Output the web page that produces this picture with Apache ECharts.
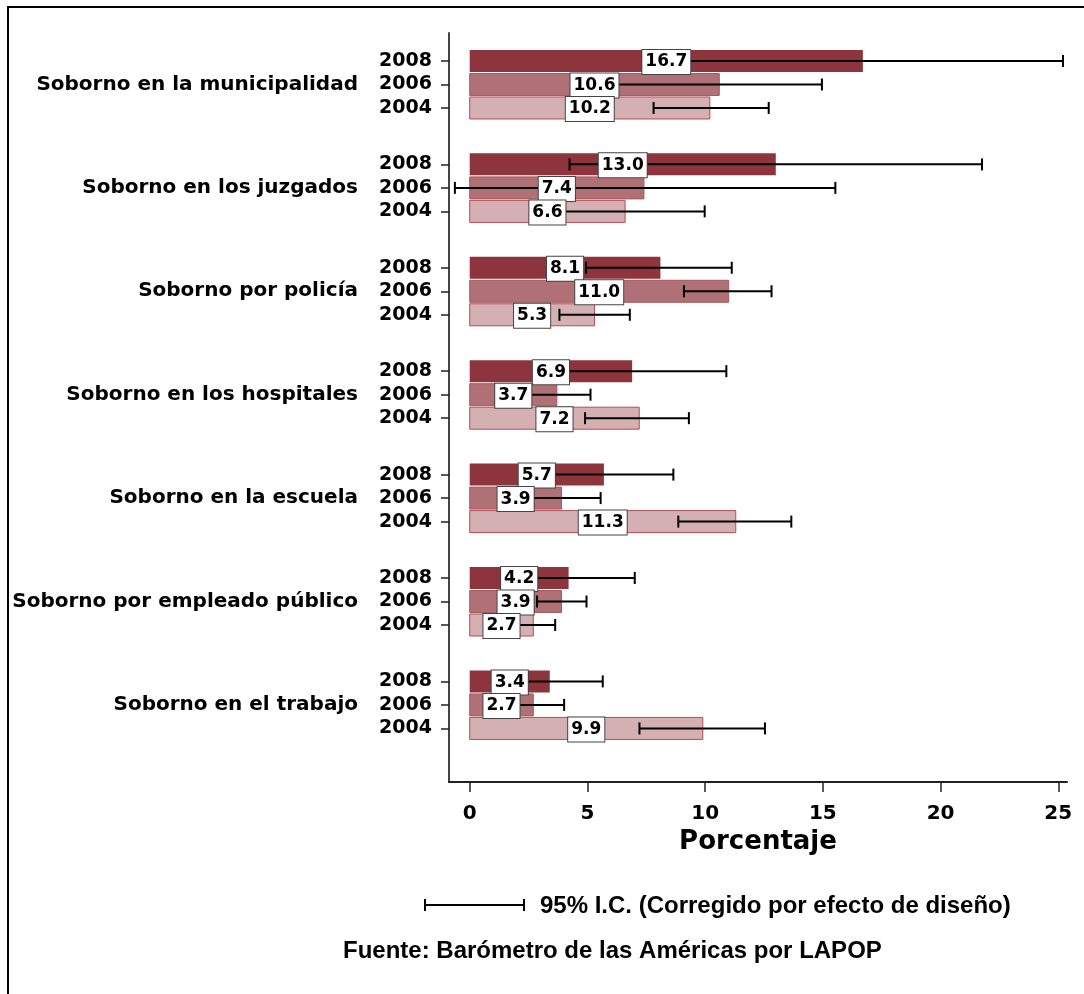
<!DOCTYPE html>
<html><head><meta charset="utf-8">
<script src="https://cdn.jsdelivr.net/npm/echarts@6/dist/echarts.min.js"></script>
<style>html,body{margin:0;padding:0;background:#fff}#c{width:1084px;height:994px}</style>
</head><body><div id="c"></div>
<script>
const groups = ["Soborno en la municipalidad","Soborno en los juzgados","Soborno por policía","Soborno en los hospitales","Soborno en la escuela","Soborno por empleado público","Soborno en el trabajo"];
const years = ["2008","2006","2004"];
const v2008 = [16.7,13.0,8.1,6.9,5.7,4.2,3.4];
const v2006 = [10.6,7.4,11.0,3.7,3.9,3.9,2.7];
const v2004 = [10.2,6.6,5.3,7.2,11.3,2.7,9.9];
const lo2008 = [8.2,4.24,4.94,3.2,2.75,1.41,1.3];
const hi2008 = [25.2,21.76,11.13,10.9,8.65,7.01,5.65];
const lo2006 = [6.26,-0.63,9.1,2.3,2.24,2.86,1.39];
const hi2006 = [14.96,15.53,12.82,5.13,5.56,4.96,4.01];
const lo2004 = [7.81,3.2,3.81,4.9,8.86,1.77,7.21];
const hi2004 = [12.70,9.98,6.8,9.31,13.66,3.63,12.54];
const xTicks = [0,5,10,15,20,25];

const vals = [v2008,v2006,v2004], los=[lo2008,lo2006,lo2004], his=[hi2008,hi2006,hi2004];
const fills = ['#8E343D','#B07176','#D5B0B3'];
const strokes = ['#8E343D','#A55960','#B84B55'];
const GP = 4.4;
const pos = (g,k)=> g*GP + k;
const rowPos=[], rowLab=[];
groups.forEach((g,i)=>years.forEach((y,k)=>{rowPos.push(pos(i,k)); rowLab.push(y);}));
const grpPos = groups.map((g,i)=>pos(i,1));
const findIdx=(arr,v)=>arr.findIndex(p=>Math.abs(p-v)<1e-6);

const FONT = 'DejaVu Sans';
const chart = echarts.init(document.getElementById('c'), null, {renderer:'canvas'});
const series=[];
years.forEach((y,k)=>{
  series.push({type:'custom', name:'bar'+y, z:2, xAxisIndex:0, yAxisIndex:0,
    data: groups.map((g,i)=>[vals[k][i], pos(i,k)]),
    renderItem:(params,api)=>{
      const s=api.coord([0,api.value(1)]), e=api.coord([api.value(0),api.value(1)]);
      const h=22;
      return {type:'rect', shape:{x:s[0], y:s[1]-h/2, width:e[0]-s[0], height:h},
        style:{fill:fills[k], stroke:strokes[k], lineWidth:k===0?0:1}};
    }});
});
years.forEach((y,k)=>{
  series.push({type:'custom', name:'err'+y, z:3,
    data: groups.map((g,i)=>[los[k][i], his[k][i], pos(i,k)]),
    renderItem:(params,api)=>{
      const a=api.coord([api.value(0),api.value(2)]), b=api.coord([api.value(1),api.value(2)]);
      const c=6, st={stroke:'#000', lineWidth:2};
      return {type:'group', children:[
        {type:'line', shape:{x1:a[0],y1:a[1],x2:b[0],y2:b[1]}, style:st},
        {type:'line', shape:{x1:a[0],y1:a[1]-c,x2:a[0],y2:a[1]+c}, style:st},
        {type:'line', shape:{x1:b[0],y1:b[1]-c,x2:b[0],y2:b[1]+c}, style:st}
      ]};
    }});
});
years.forEach((y,k)=>{
  series.push({type:'custom', name:'lab'+y, z:4,
    data: groups.map((g,i)=>[vals[k][i], pos(i,k)]),
    renderItem:(params,api)=>{
      const v=api.value(0);
      const m=api.coord([v/2,api.value(1)]);
      return {type:'text', x:m[0], y:m[1]+1, style:{text:v.toFixed(1), align:'center', verticalAlign:'middle',
        font:'bold 17px "DejaVu Sans"', fill:'#000', backgroundColor:'#fff', borderColor:'#444', borderWidth:1, padding:[4,3,3,3]}};
    }});
});

const option = {
  animation:false,
  backgroundColor:'#fff',
  grid:{left:449, right:17, top:33, bottom:212, containLabel:false},
  xAxis:[{type:'value', min:-0.88, max:25.37,
    name:'Porcentaje', nameLocation:'middle', nameGap:47,
    nameTextStyle:{fontFamily:FONT, fontWeight:'bold', fontSize:26, color:'#000'},
    axisLine:{show:true, onZero:false, lineStyle:{color:'#222', width:2}},
    axisTick:{show:true, length:10, customValues:xTicks, lineStyle:{color:'#222', width:1.5}},
    axisLabel:{customValues:xTicks, margin:22, fontFamily:FONT, fontWeight:'bold', fontSize:20, color:'#000'},
    splitLine:{show:false}}],
  yAxis:[
    {type:'value', inverse:true, min:-1.19, max:30.68, position:'left',
     axisLine:{show:true, onZero:false, lineStyle:{color:'#444', width:2}},
     axisTick:{show:true, length:8, customValues:rowPos, lineStyle:{color:'#222', width:1.5}},
     axisLabel:{customValues:rowPos, margin:17, fontFamily:FONT, fontWeight:'bold', fontSize:19, color:'#000',
       formatter:(v)=>{const i=findIdx(rowPos,v); return i>=0?rowLab[i]:'';}},
     splitLine:{show:false}},
    {type:'value', inverse:true, min:-1.19, max:30.68, position:'left',
     axisLine:{show:false, onZero:false}, axisTick:{show:false},
     axisLabel:{customValues:grpPos, margin:91, fontFamily:FONT, fontWeight:'bold', fontSize:20, color:'#000',
       formatter:(v)=>{const i=findIdx(grpPos,v); return i>=0?groups[i]:'';}},
     splitLine:{show:false}}
  ],
  series: series,
  graphic:[
    {type:'line', shape:{x1:7,y1:7,x2:1084,y2:7}, style:{stroke:'#000', lineWidth:2}},
    {type:'line', shape:{x1:8,y1:7,x2:8,y2:994}, style:{stroke:'#000', lineWidth:2}},
    {type:'line', shape:{x1:425,y1:905,x2:524,y2:905}, style:{stroke:'#000', lineWidth:2}},
    {type:'line', shape:{x1:425,y1:899,x2:425,y2:911}, style:{stroke:'#000', lineWidth:2}},
    {type:'line', shape:{x1:524,y1:899,x2:524,y2:911}, style:{stroke:'#000', lineWidth:2}},
    {type:'text', x:540, y:906, style:{text:'95% I.C. (Corregido por efecto de diseño)', font:'bold 24px "Liberation Sans"', fill:'#000', verticalAlign:'middle', align:'left'}},
    {type:'text', x:343, y:951, style:{text:'Fuente: Barómetro de las Américas por LAPOP', font:'bold 24px "Liberation Sans"', fill:'#000', verticalAlign:'middle', align:'left'}}
  ]
};
chart.setOption(option);
</script></body></html>
